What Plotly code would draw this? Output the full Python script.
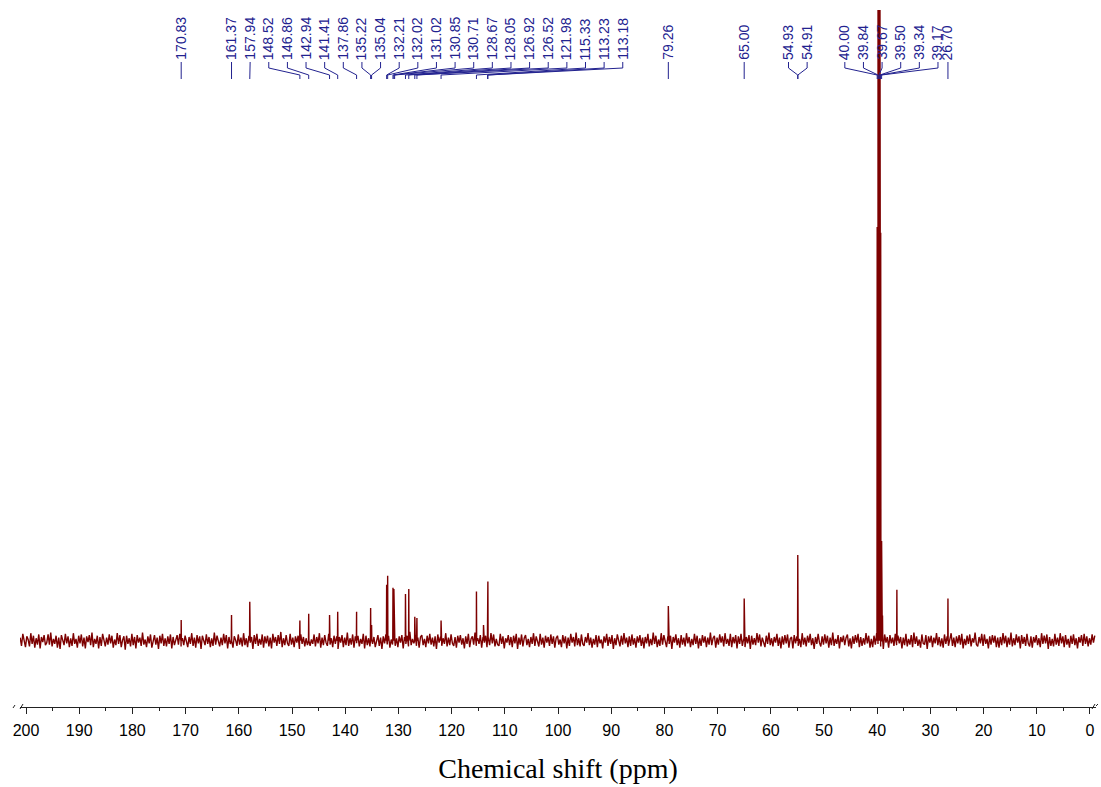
import numpy as np
import plotly.graph_objects as go

# ---------------- data ----------------
tick_vals = list(range(0, 201, 10))
tick_text = [str(v) for v in tick_vals]
minor_tick_vals = list(range(5, 200, 10))

# baseline noise (arbitrary units), sampled every 0.25 ppm starting at 201.1 ppm
noise_start_ppm = 201.1
noise_step_ppm = 0.25
noise_values = [
    5, -8, 11, -3, -10, 7, 2, -9, 12, -5, 8, -11, 4, -6, 10, -12, 6, -2, 9, -7,
    -3, 10, -6, 13, -9, 3, -5, 8, -11, 5, -13, 9, 1, -7, 11, -4, 7, -10, 4, -8,
    12, -5, 3, -11, 8, -4, 10, -9, 5, -12, 7, -2, 9, -7, 13, -10, 3, -5, 8, -12,
    6, -8, 11, -2, -9, 5, -6, 10, -4, 8, -11, 2, -7, 12, -5, 9, -10, 1, 7, -14,
    8, -5, 4, -9, 11, -7, 6, -12, 9, -3, 5, -8, 13, -6, 2, -10, 7, -4, 10, -11,
    -2, 9, -6, 5, -13, 8, -4, 11, -8, 4, -9, 7, -5, 10, -12, 6, -7, 3, 9, -6,
    11, -9, 4, -7, 8, -3, -10, 6, -5, 12, -8, 5, -11, 9, -4, 7, -13, 8, 2, -7,
    10, -5, 6, -10, 4, -8, 13, -6, 8, -3, -9, 5, -7, 11, -4, 9, -12, 6, -5, 8,
    -11, 7, 1, -8, 10, -6, 5, -9, 12, -7, 4, -10, 8, -3, 6, -13, 9, -5, 11, -8,
    3, -6, 10, -11, 7, -4, 8, -9, 5, -12, 11, -3, 6, -8, 9, -5, 14, -10, 4, -7,
    9, -4, -8, 11, -6, 5, -10, 7, -3, 8, -13, 10, -5, 6, -9, 4, -7, 12, -8, 2,
    -5, 10, -9, 6, -4, 12, -11, 5, -7, 9, -3, -8, 11, -6, 4, -10, 8, -5, 7, -13,
    6, -3, 9, -10, 5, -7, 13, -8, 4, -6, 10, -11, 7, -4, 8, -9, 3, -5, 11, -12,
    8, -7, 4, -9, 12, -5, 6, -10, 3, 9, -8, 5, -13, 7, -4, 10, -6, 8, -11, 2,
    -6, 11, -8, 4, -10, 7, -3, 9, -12, 6, -5, 8, -9, 14, -7, 3, -4, 10, -8, 5,
    -11, 6, 9, -7, 3, -10, 8, -4, 11, -6, 5, -9, 7, -13, 10, -3, 6, -8, 4, -5,
    12, -9, 5, -7, 10, -4, -8, 6, -11, 8, -3, 9, -6, 4, -12, 7, -5, 11, -10, 3,
    7, -6, 13, -8, 4, -5, 9, -11, 6, -3, 8, -10, 5, -7, 12, -4, 10, -9, 3, -6,
    -8, 11, -5, 7, -12, 4, -3, 9, -7, 6, -10, 8, -4, 11, -13, 5, -6, 10, -9, 4,
    9, -7, 3, -10, 6, -5, 12, -8, 7, -4, -9, 11, -6, 5, -11, 8, -3, 6, -8, 10,
    -5, 7, -11, 4, 8, -6, 2, -10, 9, -4, 7, -12, 5, -8, 11, -3, 6, -9, 13, -7,
    4, -9, 10, -5, -8, 6, -3, 12, -7, 5, -11, 3, -6, 9, -10, 8, -4, 2, -12, 7,
    -3, 11, -8, 6, -5, 9, -13, 4, -7, 10, -2, -9, 8, -6, 12, -4, 5, -10, 7, -8,
    10, -6, 4, -11, 7, -3, 9, -8, 5, -12, 6, -4, 11, -9, 3, -7, 13, -5, 8, -10,
    2, -8, 12, -6, 9, -4, -10, 7, -5, 8, -13, 6, -3, 10, -7, 4, -11, 9, -6, 5,
    -9, 12, -4, 6, -10, 3, -7, 11, -5, 8, -12, 4, -8, 9, -3, 7, -10, 5, -6, 13,
    -7, 4, 8, -11, 5, -6, 10, -3, 7, -9, 12, -5, 3, -8, 11, -10, 6, -4, 9, -12,
    7, -5, 11, -8, 3, -10, 6, -4, 9, -13, 8, -6, 4, -7, 12, -3, 10, -9, 5, -2,
    -10, 8, -5, 13, -7, 4, -9, 6, -3, 11, -8, 5, -12, 7, -6, 9, -4, 10, -11, 3,
    6, -12, 9, -4, 7, -8, 3, -10, 12, -6, 5, -9, 8, -3, 11, -7, 4, -13, 6, -5,
    11, -3, -9, 7, -6, 10, -4, 8, -11, 5, -7, 13, -8, 3, -5, 9, -12, 6, -2, 8,
    -7, 5, 10, -9, 4, -12, 7, -5, 9, -3, 11, -10, 6, -8, 4, -6, 12, -4, 8, -11,
    3, -10, 8, -6, 12, -5, 4, -9, 7, -13, 10, -3, 6, -11, 9, -4, 5, -8, 11, -7,
    8, -4, 6, -12, 5, -7, 11, -9, 3, -6, 9, -10, 13, -5, 7, -8, 2, -11, 10, -4,
    -6, 9, -13, 7, -3, 8, -10, 5, -4, 12, -7, 6, -9, 4, -11, 10, -5, 7, -8, 3,
    12, -8, 5, -10, 7, -4, 9, -6, 11, -12, 3, -7, 8, -5, 10, -9, 4, -3, 13, -6,
    -9, 6, -4, 11, -8, 10, -5, 3, -12, 7, -6, 9, -3, 8, -10, 5, -11, 6, -7, 12,
    -4, 8, -10, 5, -6, 13, -9, 4, -7, 10, -3, 7, -12, 9, -5, 6, -8, 11, -4, -9,
    7, -11, 6, -3, 9, -7, 4, -10, 12, -5, 8, -4, 10, -13, 6, -8, 3, -9, 11, -6,
    5, -8, 12, -4, 7, -10, 9, -6, 3, -11, 8, -5, 10, -7, 4, -12, 6, -3, 9, -8,
    11, -5, 7, -9, 4, -6, 10, -3, 8,
]

# peaks: chemical shift (ppm) and height (arbitrary units)
peak_ppm = [170.83, 161.37, 157.94, 148.52, 146.86, 142.94, 141.41, 137.86,
            135.22, 135.04, 132.21, 132.02, 131.02, 130.85, 130.71, 128.67,
            128.05, 126.92, 126.52, 121.98, 115.33, 114.00, 113.23, 113.18,
            79.26, 65.00, 54.93, 54.91, 40.00, 39.84, 39.67, 39.50, 39.34,
            39.17, 39.00, 36.30, 26.70]
peak_height = [33, 41, 62, 32, 43, 41, 46, 46,
               52, 25, 89, 103, 84, 82, 60, 74,
               82, 38, 36, 32, 78, 25, 40, 94,
               55, 67, 136, 130, 656, 1200, 1200, 1200, 647,
               158, 40, 81, 67]

# labelled peaks, in annotation groups
label_groups = [
    [170.83],
    [161.37],
    [157.94],
    [148.52, 146.86, 142.94, 141.41, 137.86, 135.22, 135.04, 132.21, 132.02,
     131.02, 130.85, 130.71, 128.67, 128.05, 126.92, 126.52, 121.98, 115.33,
     113.23, 113.18],
    [79.26],
    [65.00],
    [54.93, 54.91],
    [40.00, 39.84, 39.67, 39.50, 39.34, 39.17],
    [26.70],
]

# ---------------- layout constants ----------------
W, H = 1101, 787
ML, MR, MT, MB = 20, 5, 10, 80
X_RANGE = [201.13, -1.13]
Y_RANGE = [-105, 1000]
PLOT_W = W - ML - MR
PLOT_H = H - MT - MB
PX_PER_PPM = PLOT_W / (X_RANGE[0] - X_RANGE[1])
LABEL_SPACING_PX = 18.63
GROUP_SHIFT_PX = {7: 12}
GROUP_NO_CLAMP = {8}
SPEC_COLOR = "#7d0000"
LABEL_COLOR = "#22228f"
AXIS_COLOR = "#222222"


def px2paper_x(px):
    return (px - ML) / PLOT_W


def px2paper_y(py):
    return (H - MB - py) / PLOT_H


# ---------------- spectrum ----------------
noise_ppm = noise_start_ppm - noise_step_ppm * np.arange(len(noise_values))
pts = list(zip(noise_ppm.tolist(), noise_values))
half_w = 0.04
for p, h in zip(peak_ppm, peak_height):
    pts += [(p + half_w, 0), (p, h), (p - half_w, 0)]
pts.sort(key=lambda t: -t[0])
spec_x = [t[0] for t in pts]
spec_y = [t[1] for t in pts]

fig = go.Figure()
fig.add_trace(go.Scatter(x=spec_x, y=spec_y, mode="lines",
                         line=dict(color=SPEC_COLOR, width=1.4),
                         hoverinfo="skip"))

# ---------------- peak labels ----------------
s = LABEL_SPACING_PX / PX_PER_PPM
annotations = []
cx, cy = [], []
prev_last = None
for gi, grp in enumerate(label_groups):
    n = len(grp)
    c = float(np.mean(grp))
    pos = [c + s * ((n - 1) / 2 - i) for i in range(n)]
    if gi not in GROUP_NO_CLAMP and prev_last is not None and pos[0] > prev_last - s:
        d = pos[0] - (prev_last - s)
        pos = [p - d for p in pos]
    shift = GROUP_SHIFT_PX.get(gi, 0) / PX_PER_PPM
    pos = [p - shift for p in pos]
    prev_last = pos[-1]
    for v, lp in zip(grp, pos):
        annotations.append(dict(
            x=lp, xref="x", y=px2paper_y(61), yref="paper",
            text=f"{v:.2f}", textangle=-90, showarrow=False,
            xanchor="center", yanchor="bottom",
            font=dict(family="Liberation Sans, Arial", size=14, color=LABEL_COLOR),
            borderpad=0,
        ))
        cx += [lp, lp, v, v, None]
        cy += [62, 68, 75, 79, None]

fig.add_trace(go.Scatter(x=cx, y=cy, mode="lines", yaxis="y2",
                         line=dict(color=LABEL_COLOR, width=1),
                         hoverinfo="skip"))

# axis break marks
shapes = []
for (x0, y0, x1, y1) in [(13, 708, 15, 705), (20, 709, 23, 704),
                         (1092, 709, 1095, 704), (1096, 706, 1098, 704)]:
    shapes.append(dict(type="line", xref="paper", yref="paper",
                       x0=px2paper_x(x0), y0=px2paper_y(y0),
                       x1=px2paper_x(x1), y1=px2paper_y(y1),
                       line=dict(color=AXIS_COLOR, width=1)))

fig.update_layout(
    width=W, height=H,
    margin=dict(l=ML, r=MR, t=MT, b=MB, autoexpand=False),
    paper_bgcolor="white", plot_bgcolor="white",
    showlegend=False,
    annotations=annotations,
    shapes=shapes,
    xaxis=dict(
        range=X_RANGE, tickvals=tick_vals, ticktext=tick_text,
        ticks="outside", ticklen=6, tickwidth=1, tickcolor=AXIS_COLOR,
        showline=True, linecolor=AXIS_COLOR, linewidth=1,
        showgrid=False, zeroline=False, automargin=False,
        ticklabelstandoff=3,
        tickfont=dict(family="Liberation Sans, Arial", size=16, color="black"),
        minor=dict(tickvals=minor_tick_vals, ticks="outside", ticklen=3,
                   tickcolor=AXIS_COLOR, tickwidth=1, showgrid=False),
        title=dict(text="Chemical shift (ppm)", standoff=20,
                   font=dict(family="Liberation Serif, Times New Roman",
                             size=28, color="black")),
    ),
    yaxis=dict(range=Y_RANGE, visible=False, fixedrange=True),
    yaxis2=dict(range=[H - MB, MT], overlaying="y", visible=False,
                fixedrange=True),
)

fig.write_html("out.html",
               config={"displayModeBar": False, "staticPlot": True},
               post_script="document.body.style.margin='0';"
                           "document.body.style.overflow='hidden';")
